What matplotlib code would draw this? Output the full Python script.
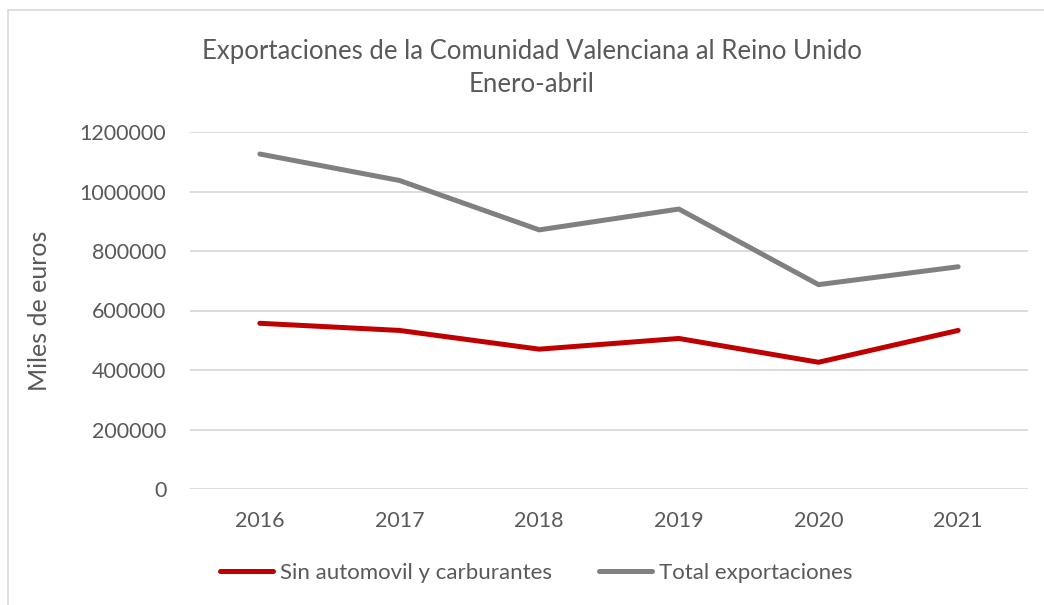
import numpy as np
import matplotlib.pyplot as plt
from matplotlib.patches import Rectangle

# Chart settings
gray_text = '#595959'
plt.rcParams["font.family"] = ["Lato", "DejaVu Sans"]
plt.rcParams["text.color"] = gray_text
plt.rcParams["xtick.color"] = gray_text
plt.rcParams["ytick.color"] = gray_text

# Data (miles de euros, enero-abril)
years = ["2016", "2017", "2018", "2019", "2020", "2021"]
sin_automovil = [557000, 533000, 470000, 506000, 426000, 533000]
total_export = [1126000, 1037000, 871000, 941000, 687000, 747000]
y_ticks = [0, 200000, 400000, 600000, 800000, 1000000, 1200000]

fig = plt.figure(figsize=(10.44, 6.05), dpi=100)
ax = fig.add_axes([190/1044, 1 - 489/605, 838/1044, 357/605])

x = np.arange(len(years))
l1, = ax.plot(x, sin_automovil, color='#c00000', lw=3.6, solid_capstyle='round',
              label="Sin automovil y carburantes")
l2, = ax.plot(x, total_export, color='#808080', lw=3.6, solid_capstyle='round',
              label="Total exportaciones")

ax.set_xlim(-0.5, len(years) - 0.5)
ax.set_ylim(0, 1200000)
ax.set_xticks(x, years)
ax.set_yticks(y_ticks, [str(v) for v in y_ticks])
ax.grid(axis='y', color='#d9d9d9', lw=1.3)
ax.set_axisbelow(True)
for s in ax.spines.values():
    s.set_visible(False)
ax.tick_params(length=0, labelsize=15.5)
ax.tick_params(axis='x', pad=16)
ax.tick_params(axis='y', pad=17)

ax.set_ylabel("Miles de euros", fontsize=18, color=gray_text, labelpad=21)

fig.text(532/1044, 1 - 51/605, "Exportaciones de la Comunidad Valenciana al Reino Unido",
         ha='center', va='center', fontsize=18.5)
fig.text(532/1044, 1 - 85/605, "Enero-abril", ha='center', va='center', fontsize=18.5)

# Chart border
fig.add_artist(Rectangle((8/1044, -0.1), 1.2, 1 - 10/605 + 0.1, transform=fig.transFigure,
                         fill=False, edgecolor='#d9d9d9', lw=1.2))

fig.legend(handles=[l1, l2], loc='center', bbox_to_anchor=(536/1044, 1 - 573/605),
           ncol=2, frameon=False, fontsize=16, handlelength=2.4, handletextpad=0.3,
           columnspacing=2.1)

fig.savefig("out.png", dpi=100)
